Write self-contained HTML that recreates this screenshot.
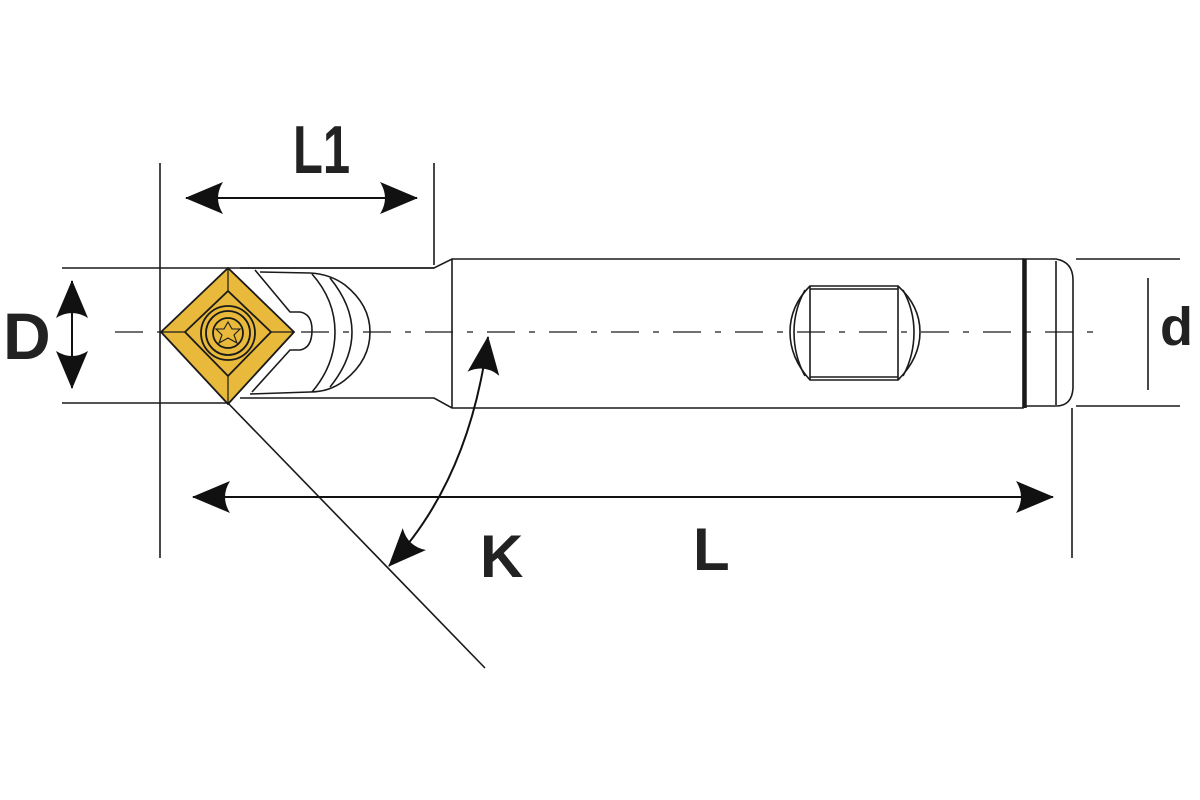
<!DOCTYPE html>
<html><head><style>html,body{margin:0;padding:0;background:#fff}svg{display:block}</style></head>
<body>
<svg width="1200" height="800" viewBox="0 0 1200 800" xmlns="http://www.w3.org/2000/svg">
<defs>
<marker id="ar" viewBox="0 0 40 34" refX="39" refY="17" markerWidth="40" markerHeight="34" markerUnits="userSpaceOnUse" orient="auto-start-reverse">
<path d="M40,17 L2,1 Q12,17 2,33 Z" fill="#111"/>
</marker>
</defs>
<g stroke="#1a1a1a" fill="none" stroke-width="1.6">
<line x1="160" y1="163" x2="160" y2="558"/>
<line x1="434" y1="163" x2="434" y2="265"/>
<line x1="1072" y1="408" x2="1072" y2="558"/>
<line x1="62" y1="268" x2="434" y2="268"/>
<line x1="62" y1="403" x2="230" y2="403"/>
<line x1="1076" y1="259" x2="1180" y2="259"/>
<line x1="1076" y1="406" x2="1180" y2="406"/>
<line x1="1148" y1="278" x2="1148" y2="390"/>
<path d="M240,268 L434,268 L452,259 L1023,259 L1023,408 L452,408 L434,398 L240,398"/>
<line x1="452" y1="259" x2="452" y2="408"/>
<path d="M1023,259 L1056,259 Q1073,262 1073,280 L1073,388 Q1072,406 1056,406 L1023,406"/>
<line x1="1056" y1="261" x2="1056" y2="405"/>
<line x1="1025" y1="259" x2="1025" y2="408" stroke-width="3.5"/>
<path d="M260,272 L310,273 Q330,274 345,285 Q370,305 370,332 Q370,360 345,380 Q330,392 310,392 L250,394"/>
<path d="M312,274 Q335,300 335,332 Q335,365 312,392"/>
<path d="M330,278 Q352,305 352,332 Q352,360 330,387"/>
<path d="M255,270 L290,312 L300,312 Q312,314 312,330 Q312,348 300,350 L290,350 L252,392"/>
<path d="M810,286 L898,286 Q920,306 920,332 Q920,358 898,380 L810,380 Q790,358 790,332 Q790,306 810,286 Z"/>
<line x1="810" y1="286" x2="810" y2="380"/><line x1="898" y1="286" x2="898" y2="380"/>
<line x1="810" y1="289" x2="898" y2="289"/><line x1="810" y1="377" x2="898" y2="377"/>
<path d="M805,290 Q794,310 794,332 Q794,356 805,376"/>
<path d="M903,290 Q914,310 914,332 Q914,356 903,376"/>
<line x1="115" y1="332" x2="1105" y2="332" stroke-dasharray="28,14,6,14" stroke-width="1.3"/>
<line x1="225" y1="400" x2="485" y2="668"/>
</g>
<g stroke="#1a1a1a" stroke-width="1.8">
<path d="M161,332 L228,268 L294,332 L228,404 Z" fill="#e8b93a"/>
<path d="M185,332 L228,291 L271,332 L228,376 Z" fill="#e8b93a"/>
<g stroke-width="1.2"><line x1="161" y1="332" x2="185" y2="332"/><line x1="228" y1="268" x2="228" y2="291"/><line x1="294" y1="332" x2="271" y2="332"/><line x1="228" y1="404" x2="228" y2="376"/></g>
<circle cx="228" cy="333" r="27" fill="#e8b93a"/>
<circle cx="228" cy="333" r="22" fill="#e8b93a"/>
<circle cx="228" cy="333" r="15" fill="#e8b93a"/>
<path d="M228,322 L232,329 L240,329 L234,335 L237,343 L228,338 L219,343 L222,335 L216,329 L224,329 Z" fill="none" stroke-width="1.1"/>
</g>
<g stroke="#111" stroke-width="2" fill="none">
<line x1="186" y1="198" x2="417" y2="198" marker-start="url(#ar)" marker-end="url(#ar)"/>
<line x1="193" y1="497" x2="1053" y2="497" marker-start="url(#ar)" marker-end="url(#ar)"/>
<line x1="72" y1="281" x2="72" y2="388" marker-start="url(#ar)" marker-end="url(#ar)"/>
<path d="M488,337 Q470,480 389,566" marker-start="url(#ar)" marker-end="url(#ar)"/>
</g>
<g font-family="Liberation Sans, sans-serif" font-weight="bold" fill="#222">
<text x="0" y="0" font-size="68" transform="translate(293,173) scale(0.72,1)">L1</text>
<text x="3" y="359" font-size="66">D</text>
<text x="1160" y="345" font-size="54">d</text>
<text x="480" y="577" font-size="60">K</text>
<text x="693" y="570" font-size="60">L</text>
</g>
</svg>
</body></html>
